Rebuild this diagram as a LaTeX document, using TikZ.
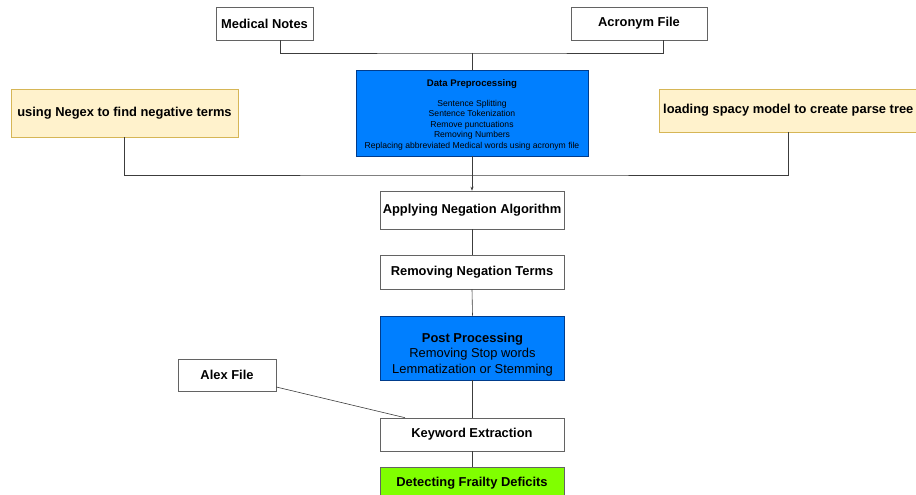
\documentclass[tikz,border=0pt]{standalone}
\usepackage{fontspec}
\setmainfont{Liberation Sans}
\usetikzlibrary{arrows.meta}
\definecolor{bluefill}{RGB}{0,127,255}
\definecolor{blueline}{RGB}{0,60,140}
\definecolor{yelfill}{RGB}{255,242,204}
\definecolor{yelline}{RGB}{214,182,86}
\definecolor{greenfill}{RGB}{128,255,0}
\definecolor{lineg}{RGB}{60,60,60}
\tikzset{
  box/.style={draw=lineg!80, line width=0.6pt, fill=white, inner sep=0pt, align=center, font=\fontsize{12.9}{15}\selectfont\bfseries},
  bluebox/.style={box, fill=bluefill, draw=blueline},
  yelbox/.style={box, fill=yelfill, draw=yelline},
  greenbox/.style={box, fill=greenfill, draw=lineg!80},
  conn/.style={draw=lineg, line width=0.6pt},
  lbl/.style={font=\fontsize{12.9}{15}\selectfont\bfseries, inner sep=0pt},
}
\begin{document}
\begin{tikzpicture}[x=1pt,y=1pt]
\useasboundingbox (0,0) rectangle (916,-495);
\begin{scope}
\clip (0,0) rectangle (916,-495);
% nodes
\node[box, minimum width=97pt, minimum height=33pt] (med) at (264.5,-23.5) {Medical Notes};
\node[box, minimum width=136pt, minimum height=33pt] (acr) at (639,-23.5) {Acronym File};
\node[bluebox, minimum width=232pt, minimum height=86pt] (pre) at (472,-113) {};
\node[font=\fontsize{9.6}{11}\selectfont\bfseries, inner sep=0pt] (pret) at (472,-84) {Data Preprocessing};
\node[font=\fontsize{8.6}{10.6}\selectfont, align=center, inner sep=0pt] (prel) at (472,-125) {Sentence Splitting\\Sentence Tokenization\\Remove punctuations\\Removing Numbers\\Replacing abbreviated Medical words using acronym file};
\node[yelbox, minimum width=227pt, minimum height=48pt] (neg) at (124.5,-113) {using Negex to find negative terms};
\node[yelbox, minimum width=280pt, minimum height=43pt, anchor=west] (spa) at (658.5,-110.5) {};
\node[lbl, anchor=west] (spat) at (663,-110.5) {loading spacy model to create parse tree};
\node[box, minimum width=184pt, minimum height=38pt] (app) at (472,-210) {Applying Negation Algorithm};
\node[box, minimum width=184pt, minimum height=34pt] (rem) at (472,-272) {Removing Negation Terms};
\node[bluebox, minimum width=184pt, minimum height=64pt] (post) at (472.5,-348) {};
\node[align=center, font=\fontsize{12.9}{15.5}\selectfont, inner sep=0pt] (postt) at (472.5,-354.5) {\textbf{Post Processing}\\Removing Stop words\\Lemmatization or Stemming};
\node[box, minimum width=98pt, minimum height=32pt] (alex) at (227,-375) {Alex File};
\node[box, minimum width=184pt, minimum height=33pt] (kw) at (472,-434.5) {Keyword Extraction};
\node[greenbox, minimum width=184pt, minimum height=40pt, anchor=north] (det) at (472,-467) {};
\node[lbl] (dett) at (472,-483) {Detecting Frailty Deficits};
% connectors
\coordinate (j1) at (472,-53);
\draw[conn] (med.south -| 280,0) |- (j1) -| (acr.south -| 663,0);
\draw[conn] (j1) -- (pre.north);
\coordinate (j2) at (472,-175);
\draw[conn] (neg.south) |- (j2) -| (spa.south -| 788,0);
\draw[conn, -{Stealth[length=4pt,width=3pt]}] (pre.south) -- (app.north);
\draw[conn] (app.south) -- (rem.north);
\draw[conn] (rem.south) -- (post.north);
\draw[conn] (post.south -| kw.north) -- (kw.north);
\draw[conn] (alex.east |- 0,-387) -- (kw.north -| 405,0);
\draw[conn] (kw.south) -- (det.north);
\end{scope}
\end{tikzpicture}
\end{document}
